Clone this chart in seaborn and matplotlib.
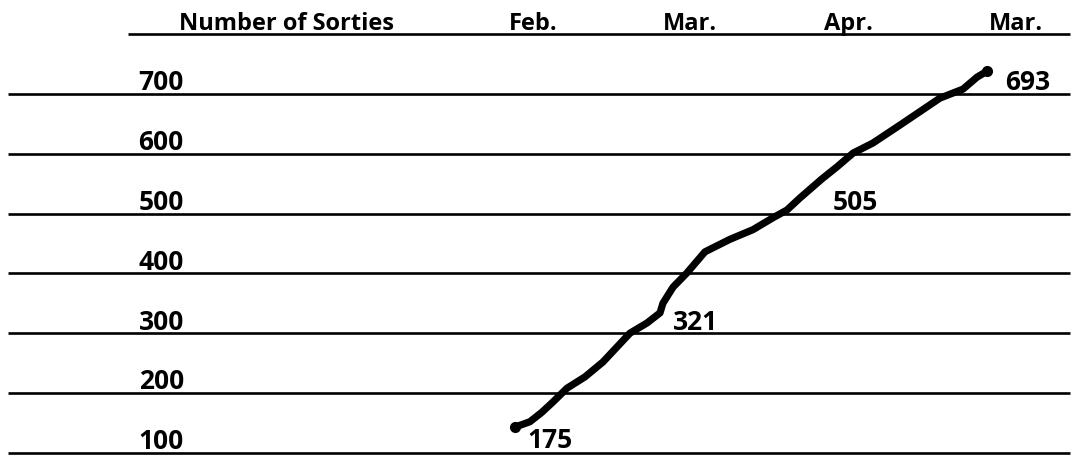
import matplotlib
matplotlib.use("Agg")
import matplotlib.pyplot as plt
import seaborn as sns
import pandas as pd

# Header row: title and month columns (x in month units, Feb. = 0)
header_labels = ["Number of Sorties", "Feb.", "Mar.", "Apr.", "Mar."]
header_x = [-1.53, 0.0, 0.975, 1.957, 3.0]

# Horizontal level lines and their labels
levels = [700, 600, 500, 400, 300, 200, 100]

# Hand-drawn curve
curve_x = [-0.112, -0.019, 0.056, 0.124, 0.211, 0.323, 0.435, 0.522, 0.602,
           0.708, 0.789, 0.807, 0.870, 0.957, 1.068, 1.224, 1.366, 1.491,
           1.578, 1.658, 1.795, 1.888, 1.988, 2.112, 2.280, 2.528, 2.671,
           2.758, 2.820]
curve_y = [143, 152, 168, 185, 208, 227, 252, 277, 300, 317, 334, 350, 377,
           401, 436, 457, 473, 493, 506, 526, 558, 578, 601, 618, 648, 693,
           708, 728, 738]

# Value callouts along the curve
callouts = ["175", "321", "505", "693"]
callout_x = [-0.037, 0.870, 1.863, 2.932]
callout_y = [108, 305, 506, 707]

df = pd.DataFrame({"month": curve_x, "sorties": curve_y})

sns.set_theme(style="white")
plt.rcParams["font.family"] = ["Open Sans", "DejaVu Sans"]

fig = plt.figure(figsize=(10.76, 4.57), dpi=100)
ax = fig.add_axes([0, 0, 1, 1])

x_left, x_right = -3.26, 3.335
ax.hlines(levels, x_left, x_right, color="black", linewidth=1.9)
ax.hlines([800], -2.516, x_right, color="black", linewidth=1.9)

sns.lineplot(data=df, x="month", y="sorties", sort=False, color="black",
             linewidth=5.2, solid_capstyle="round", ax=ax)
ax.plot([curve_x[0], curve_x[-1]], [curve_y[0], curve_y[-1]], "o",
        color="black", markersize=7)

head_font = dict(fontsize=17, fontweight="bold", color="black")
num_font = dict(fontsize=19, fontweight="bold", color="black")

for lab, xx in zip(header_labels, header_x):
    ax.text(xx, 807, lab, ha="center", va="baseline", **head_font)

for lv in levels:
    ax.text(-2.45, lv + 6, str(lv), ha="left", va="baseline", **num_font)

for lab, xx, yy in zip(callouts, callout_x, callout_y):
    ax.text(xx, yy, lab, ha="left", va="baseline", **num_font)

ax.set_xlim(-3.311, 3.373)
ax.set_ylim(93, 857)
ax.axis("off")

fig.savefig("out.png", dpi=100)
